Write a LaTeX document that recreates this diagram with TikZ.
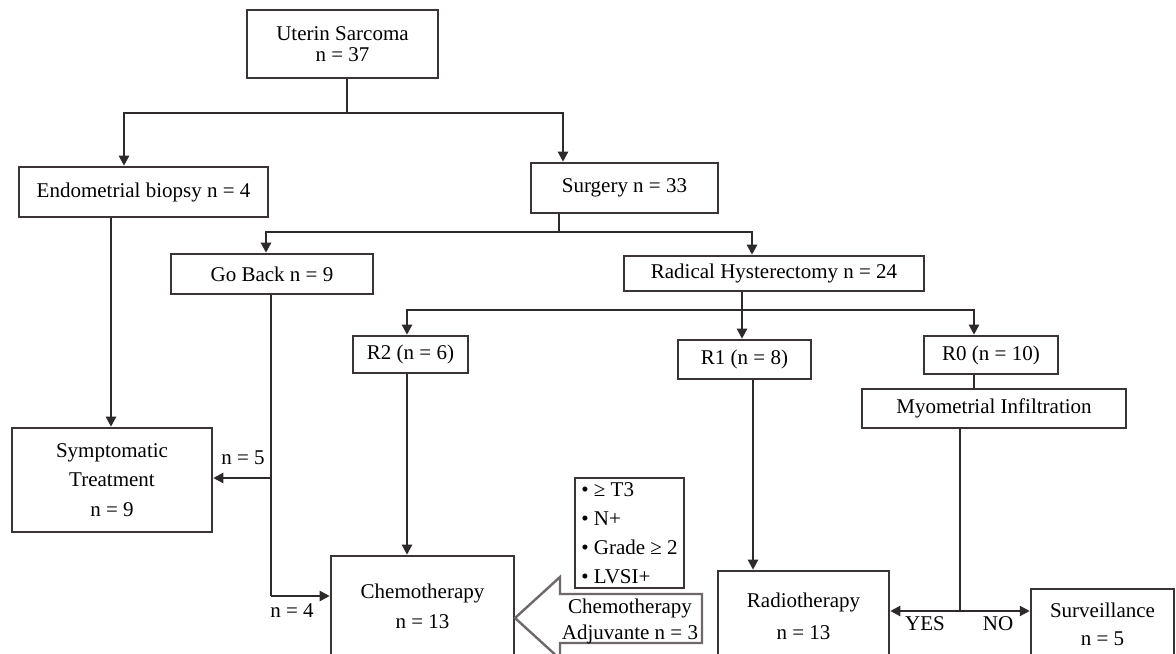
\documentclass[tikz,border=0pt]{standalone}
\usepackage{fontspec}
\setmainfont{Liberation Serif}
\usetikzlibrary{arrows.meta}
\definecolor{linecol}{HTML}{2E2A2A}
\definecolor{boxcol}{HTML}{3A3434}
\definecolor{hollowcol}{HTML}{6E6868}
\begin{document}
\begin{tikzpicture}[x=0.75pt, y=-0.75pt,
  box/.style={draw=boxcol, line width=1.9pt, fill=white, inner sep=0pt, align=center, font=\fontsize{15.75}{22}\selectfont},
  sz/.style 2 args={minimum width=#1*0.75pt, minimum height=#2*0.75pt},
  conn/.style={draw=linecol, line width=1.7pt},
  arr/.style={conn, -{Triangle[length=7.5pt,width=7.5pt]}},
  lbl/.style={font=\fontsize{15.75}{18}\selectfont, inner sep=0pt},
  hollow/.style={draw=hollowcol, line width=1.8pt, fill=white, line join=miter}]
\useasboundingbox (0,0) rectangle (1176,653);
\clip (0,0) rectangle (1176,653);

% boxes
\node[box, sz={191}{68}, font=\fontsize{15.75}{15.75}\selectfont] (us) at (342.5,44) {Uterin Sarcoma\\n = 37};
\node[box, sz={249}{50}] (endo) at (143.5,192) {Endometrial biopsy n = 4};
\node[box, sz={187}{50}] (surg) at (624.5,188) {Surgery n = 33};
\node[box, sz={202}{40}] (goback) at (272,274) {Go Back n = 9};
\node[box, sz={300}{35}] (rad) at (774,273.5) {Radical Hysterectomy n = 24};
\node[box, sz={115}{37}] (r2) at (410.5,354.5) {R2 (n = 6)};
\node[box, sz={133}{39}] (r1) at (744.5,359.5) {R1 (n = 8)};
\node[box, sz={134}{38}] (r0) at (991,355) {R0 (n = 10)};
\node[box, sz={264}{39}] (myo) at (994,408.5) {Myometrial Infiltration};
\node[box, sz={200}{104}] (symp) at (112,480) {Symptomatic\\Treatment\\n = 9};
\node[box, sz={183}{100}, font=\fontsize{15.75}{22.5}\selectfont] (chemo) at (422.5,606) {Chemotherapy\\n = 13};
\node[box, sz={171}{90}, font=\fontsize{15.75}{24}\selectfont] (radio) at (803.5,616) {Radiotherapy\\n = 13};
\node[box, sz={143}{70}, font=\fontsize{15.75}{21}\selectfont] (surv) at (1102.5,624) {Surveillance\\n = 5};
\node[box, sz={109}{110}, align=left, font=\fontsize{15.75}{21.75}\selectfont] (crit) at (629.5,533) {• ≥ T3\\• N+\\• Grade ≥ 2\\• LVSI+};

% hollow arrow (adjuvant chemotherapy)
\draw[hollow] (702,594) -- (560,594) -- (560,577) -- (515,618) -- (560,659) -- (560,643) -- (702,643) -- cycle;
\node[lbl, align=center, font=\fontsize{15.75}{19.5}\selectfont] (adj) at (630,621) {Chemotherapy\\Adjuvante n = 3};

% junction coordinates
\coordinate (j1) at (347,113);
\coordinate (a1) at (124,113);
\coordinate (a2) at (563,113);
\coordinate (j2) at (559,232);
\coordinate (a3) at (266,232);
\coordinate (a4) at (752,232);
\coordinate (j3) at (742,310);
\coordinate (a5) at (407,310);
\coordinate (a6) at (974,310);
\coordinate (j4) at (960,611);
\coordinate (c1) at (753,400);
\coordinate (c2) at (111,300);
\coordinate (j5) at (271,478);
\coordinate (j6) at (271,596);

% connectors
\draw[conn] (us.south -| j1) -- (j1);
\draw[arr] (j1) -- (a1) -- (a1 |- endo.north);
\draw[arr] (j1) -- (a2) -- (a2 |- surg.north);

\draw[conn] (surg.south -| j2) -- (j2);
\draw[arr] (j2) -- (a3) -- (a3 |- goback.north);
\draw[arr] (j2) -- (a4) -- (a4 |- rad.north);

\draw[arr] (rad.south -| j3) -- (r1.north -| j3);
\draw[arr] (j3) -- (a5) -- (a5 |- r2.north);
\draw[arr] (j3) -- (a6) -- (a6 |- r0.north);
\draw[conn] (r0.south -| a6) -- (myo.north -| a6);

\draw[conn] (myo.south -| j4) -- (j4);
\draw[arr] (j4) -- (radio.east |- j4);
\draw[arr] (j4) -- (surv.west |- j4);
\node[lbl] (yes) at (925,624) {YES};
\node[lbl] (no) at (998,624) {NO};

\draw[arr] (r1.south -| c1) -- (radio.north -| c1);
\draw[arr] (r2.south -| a5) -- (chemo.north -| a5);
\draw[arr] (endo.south -| c2) -- (symp.north -| c2);

\draw[conn] (goback.south -| j5) -- (j6);
\draw[arr] (j5) -- (symp.east |- j5);
\draw[arr] (j6) -- (chemo.west |- j6);
\node[lbl] (n5) at (243,458) {n = 5};
\node[lbl] (n4) at (292,611) {n = 4};
\end{tikzpicture}
\end{document}
